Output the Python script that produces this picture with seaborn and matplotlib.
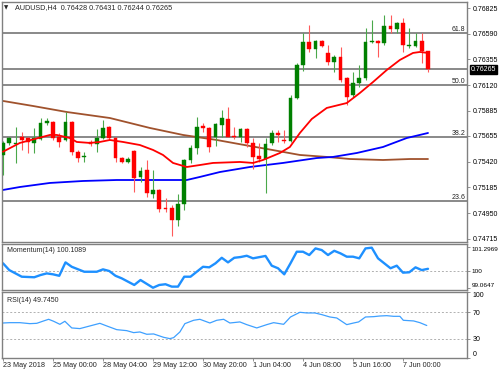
import numpy as np
import pandas as pd
import matplotlib
matplotlib.use("Agg")
import matplotlib.pyplot as plt
import matplotlib.transforms as mtrans
import seaborn as sns

# ---------------- data ----------------
opens = [0.75481,0.75591,0.75581,0.75645,0.75636,0.75591,0.75627,0.75773,0.75783,0.75645,
         0.75618,0.75783,0.75508,0.75463,0.75600,0.75581,0.75636,0.75737,0.75636,0.75453,
         0.75417,0.75517,0.75280,0.75344,0.75124,0.75161,0.74996,0.74996,0.74886,0.75033,
         0.75435,0.75545,0.75746,0.75728,0.75645,0.75755,0.75810,0.75655,0.75645,0.75719,
         0.75591,0.75472,0.75444,0.75591,0.75682,0.75618,0.75609,0.76002,0.76304,0.76514,
         0.76450,0.76523,0.76414,0.76331,0.76377,0.76185,0.76029,0.76139,0.76185,0.76514,
         0.76523,0.76505,0.76660,0.76633,0.76688,0.76478,0.76478,0.76523,0.76428]
highs = [0.75609,0.75645,0.75737,0.75691,0.75645,0.75728,0.75819,0.75819,0.75792,0.75682,
         0.75874,0.75792,0.75527,0.75508,0.75618,0.75719,0.75801,0.75746,0.75645,0.75463,
         0.75463,0.75527,0.75371,0.75435,0.75344,0.75170,0.75088,0.75024,0.75124,0.75444,
         0.75572,0.75828,0.75773,0.75737,0.75773,0.75892,0.75920,0.75737,0.75728,0.75728,
         0.75636,0.75591,0.75636,0.75709,0.75709,0.75709,0.76029,0.76322,0.76596,0.76670,
         0.76532,0.76532,0.76487,0.76395,0.76468,0.76194,0.76240,0.76304,0.76642,0.76715,
         0.76532,0.76761,0.76761,0.76697,0.76734,0.76642,0.76596,0.76596,0.76431]
lows = [0.75298,0.75572,0.75408,0.75527,0.75499,0.75499,0.75618,0.75755,0.75618,0.75554,
        0.75609,0.75481,0.75417,0.75417,0.75563,0.75508,0.75627,0.75618,0.75417,0.75408,
        0.75408,0.75143,0.75234,0.75097,0.75088,0.74960,0.74960,0.74740,0.74832,0.74978,
        0.75408,0.75490,0.75691,0.75508,0.75563,0.75645,0.75645,0.75627,0.75600,0.75554,
        0.75353,0.75417,0.75133,0.75572,0.75600,0.75591,0.75600,0.75993,0.76249,0.76423,
        0.76368,0.76468,0.76304,0.76240,0.76148,0.75938,0.76011,0.76103,0.76167,0.76505,
        0.76377,0.76487,0.76596,0.76596,0.76423,0.76459,0.76468,0.76322,0.76244]
closes = [0.75591,0.75636,0.75591,0.75618,0.75600,0.75636,0.75773,0.75792,0.75636,0.75600,
          0.75783,0.75508,0.75453,0.75472,0.75581,0.75636,0.75728,0.75636,0.75453,0.75417,
          0.75444,0.75271,0.75334,0.75133,0.75161,0.74987,0.74987,0.74886,0.75033,0.75435,
          0.75545,0.75737,0.75728,0.75554,0.75764,0.75819,0.75645,0.75645,0.75719,0.75591,
          0.75463,0.75444,0.75581,0.75682,0.75664,0.75609,0.76002,0.76304,0.76514,0.76450,
          0.76523,0.76478,0.76331,0.76377,0.76167,0.76011,0.76139,0.76185,0.76514,0.76523,
          0.76505,0.76660,0.76633,0.76688,0.76487,0.76487,0.76523,0.76432,0.76265]

# moving averages (read vertices: bar index, price)
ma_red_x = [0, 2.7, 7.5, 8.6, 10.7, 11.8, 13.9, 15.5, 17.1, 19.2, 21.9, 24, 25.6, 27.2, 29.4,
            31.5, 33.6, 37.9, 40, 41.6, 44.3, 45.9, 47.5, 49.4, 51.8, 55, 57.1, 59.2, 61.4,
            63.5, 65.6, 66.7, 68]
ma_red_y = [0.75511, 0.75591, 0.75664, 0.75664, 0.75636, 0.75600, 0.75591, 0.75600, 0.75618,
            0.75600, 0.75572, 0.75527, 0.75481, 0.75408, 0.75371, 0.75389, 0.75408, 0.75417,
            0.75408, 0.75435, 0.75499, 0.75554, 0.75682, 0.75810, 0.75911, 0.75956, 0.76048,
            0.76148, 0.76258, 0.76350, 0.76414, 0.76423, 0.76414]
ma_blue_x = [0, 2.7, 7.5, 12.8, 18.2, 29.4, 31.5, 34.7, 39.5, 44.8, 50.2, 52.8, 56.6, 60.8, 64.6, 68]
ma_blue_y = [0.75161, 0.75188, 0.75225, 0.75243, 0.75252, 0.75252, 0.75280, 0.75325, 0.75371,
             0.75408, 0.75453, 0.75463, 0.75499, 0.75554, 0.75636, 0.75682]
ma_brown_x = [0, 4.8, 10.2, 17.1, 23.5, 28.8, 34.2, 39.5, 42.2, 47.5, 51.8, 55.5, 60.8, 65.1, 68]
ma_brown_y = [0.75975, 0.75929, 0.75874, 0.75819, 0.75728, 0.75664, 0.75618, 0.75563, 0.75536,
              0.75481, 0.75463, 0.75444, 0.75435, 0.75444, 0.75444]

fib_levels = [0.76595, 0.76121, 0.75645, 0.75060]
fib_labels = ["61.8", "50.0", "38.2", "23.6"]
last_price = 0.76265

price_ticks = [0.76825, 0.76590, 0.76355, 0.76120, 0.75885, 0.75655, 0.75420, 0.75185, 0.74950, 0.74715]

mom_x = [0, 1, 2, 3, 5, 6, 7, 8, 9, 10, 11, 13, 15, 16, 17, 18, 19, 21, 22, 24, 25, 26, 27, 28,
         29, 30, 32, 33, 34, 35, 36, 37, 38, 39, 40, 42, 43, 44, 45, 46, 47, 48, 49, 50, 51, 52,
         53, 54, 55, 56, 57, 58, 59, 60, 61, 62, 63, 64, 65, 66, 67, 68]
mom_y = [100.41, 100.04, 99.86, 99.68, 99.65, 99.77, 99.86, 99.81, 99.73, 100.46, 100.22, 99.95,
         99.95, 100.08, 99.99, 99.73, 99.59, 99.23, 99.50, 99.08, 99.23, 99.27, 99.14, 99.14,
         99.68, 99.68, 100.22, 100.19, 100.41, 100.71, 100.46, 100.71, 100.75, 100.82, 100.68,
         100.81, 100.28, 100.14, 99.81, 100.41, 101.04, 101.04, 100.86, 101.22, 101.13, 100.86,
         101.09, 100.95, 100.77, 100.77, 100.68, 101.22, 101.26, 100.68, 100.41, 100.14, 100.28,
         99.90, 99.92, 100.19, 100.04, 100.11]
mom_ticks = [101.2969, 100, 99.0647]

rsi_x = [0, 1.1, 2.7, 4.3, 5.4, 6.5, 7.3, 8.1, 9.1, 9.9, 11, 12.3, 13.9, 15.5, 16.6, 18.2, 19.8,
         20.9, 21.9, 23, 24.1, 25.7, 26.7, 27.3, 28.3, 29.1, 30.5, 31.5, 33.1, 34.2, 35.3, 36.3,
         37.9, 39, 40.6, 42.2, 43.3, 44.9, 46, 47.5, 48.6, 49.9, 51, 52.3, 53.4, 55, 56.1, 56.9,
         58, 59.3, 60.3, 61.4, 62.5, 63.5, 64.05, 65.7, 66.7, 67.8]
rsi_y = [53.5, 54.0, 54.0, 52.5, 53.0, 56.6, 59.1, 56.1, 51.5, 56.1, 46.0, 45.0, 49.0, 53.0, 49.0,
         43.4, 41.9, 38.9, 39.9, 36.4, 36.9, 31.8, 29.8, 31.3, 39.9, 52.5, 57.6, 59.1, 53.5, 57.6,
         59.1, 53.5, 55.1, 51.0, 46.0, 51.0, 54.0, 51.5, 62.6, 69.7, 68.7, 68.7, 66.2, 62.6, 61.1,
         51.0, 53.5, 55.1, 62.6, 63.1, 64.1, 64.6, 63.6, 63.6, 57.6, 56.6, 54.0, 49.7]
rsi_ticks = [100, 70, 30, 0]

xtick_pos = [0, 8, 16, 24, 32, 40, 48, 56, 64]
xtick_labels = ["23 May 2018", "25 May 00:00", "28 May 04:00", "29 May 12:00", "30 May 20:00",
                "1 Jun 04:00", "4 Jun 08:00", "5 Jun 16:00", "7 Jun 00:00"]

# ---------------- style ----------------
sns.set_style("white")
plt.rcParams['font.family'] = ['Liberation Sans', 'DejaVu Sans']
FS = 5.0
GRID = '#808080'

fig = plt.figure(figsize=(5, 3.75), dpi=100)
W, H = 500.0, 375.0
L, R = 2.0, 467.0
ax1 = fig.add_axes([L / W, 1 - 242 / H, (R - L) / W, 240 / H])
ax2 = fig.add_axes([L / W, 1 - 290.3 / H, (R - L) / W, 46 / H])
ax3 = fig.add_axes([L / W, 1 - 358.3 / H, (R - L) / W, 66 / H])

XL = (-0.16, 74.24)

df = pd.DataFrame({'i': np.arange(len(opens)), 'open': opens, 'high': highs,
                   'low': lows, 'close': closes})
df['up'] = df['close'] >= df['open']

# fib + price lines
for lv in fib_levels + [last_price]:
    ax1.axhline(lv, color=GRID, lw=1.3, zorder=1)

# moving averages
sns.lineplot(x=ma_brown_x, y=ma_brown_y, ax=ax1, color='#a0522d', lw=1.3, estimator=None, sort=False, zorder=2)
sns.lineplot(x=ma_blue_x, y=ma_blue_y, ax=ax1, color='#0000ff', lw=1.3, estimator=None, sort=False, zorder=2)
sns.lineplot(x=ma_red_x, y=ma_red_y, ax=ax1, color='#ff0000', lw=1.3, estimator=None, sort=False, zorder=4)

# candles
for up, bcol, wcol in [(True, '#008000', '#4aa84a'), (False, '#ff0000', '#ff5a5a')]:
    d = df[df['up'] == up]
    ax1.vlines(d['i'], d['low'], d['high'], color=wcol, lw=0.8, zorder=3)
    hgt = np.maximum((d['close'] - d['open']).abs(), 0.00003)
    ax1.bar(d['i'], hgt, bottom=np.minimum(d['open'], d['close']), width=0.62,
            color=bcol, edgecolor=bcol, lw=0.3, zorder=3)

ax1.set_xlim(*XL)
ax1.set_ylim(0.74685, 0.76880)

# fib labels
tr1 = mtrans.blended_transform_factory(ax1.transAxes, ax1.transData)
for lv, lb in zip(fib_levels, fib_labels):
    ax1.text(0.997, lv + 0.00003, lb, transform=tr1, ha='right', va='bottom', fontsize=FS, color='#222222')
ax1.text(1.008, last_price, "0.76265", transform=tr1, ha='left', va='center', fontsize=FS,
         color='white', bbox=dict(facecolor='black', edgecolor='black', pad=0.8), zorder=10, clip_on=False)

fig.text(3.5 / W, 1 - 8 / H, "▼", fontsize=4, ha='left', va='center', family='DejaVu Sans')
fig.text(15 / W, 1 - 8 / H, "AUDUSD,H4  0.76428 0.76431 0.76244 0.76265", fontsize=5.2,
         ha='left', va='center')

# momentum
ax2.axhline(100, color='#b0b0b0', lw=0.7, ls=(0, (2, 2)))
sns.lineplot(x=mom_x, y=mom_y, ax=ax2, color='#1e90ff', lw=1.7, estimator=None, sort=False)
ax2.set_xlim(*XL)
ax2.set_ylim(98.94, 101.444)
ax2.text(5 / (R - L), 0.86, "Momentum(14) 100.1089", transform=ax2.transAxes, fontsize=FS, ha='left', va='center')

# rsi
for lv in [70, 30]:
    ax3.axhline(lv, color='#b0b0b0', lw=0.7, ls=(0, (2, 2)))
sns.lineplot(x=rsi_x, y=rsi_y, ax=ax3, color='#3ea0ff', lw=0.9, estimator=None, sort=False)
ax3.set_xlim(*XL)
ax3.set_ylim(0, 100)
ax3.text(5 / (R - L), 0.88, "RSI(14) 49.7450", transform=ax3.transAxes, fontsize=FS, ha='left', va='center')

# axes styling
for ax in (ax1, ax2, ax3):
    ax.set_xlabel("")
    ax.set_ylabel("")
    for s in ax.spines.values():
        s.set_color(GRID)
        s.set_linewidth(1.0)
    ax.yaxis.tick_right()
    ax.tick_params(axis='y', which='both', direction='out', length=2.5, width=0.6, color=GRID,
                   labelsize=FS, pad=1.5, labelcolor='black', right=True, left=False)
    ax.set_xticks([])

ax1.set_yticks(price_ticks)
ax1.set_yticklabels([f"{v:.5f}" for v in price_ticks])

ax2.set_yticks(mom_ticks)
ax2.set_yticklabels(["101.2969", "100", "99.0647"])
ax2.tick_params(axis='y', labelsize=4.6, pad=1.0)
labs = ax2.get_yticklabels()
labs[0].set_va('top'); labs[2].set_va('bottom')

ax3.set_yticks(rsi_ticks)
ax3.set_yticklabels(["100", "70", "30", "0"])
labs = ax3.get_yticklabels()
labs[0].set_va('top'); labs[3].set_va('bottom')

ax3.set_xticks(xtick_pos)
ax3.set_xticklabels(xtick_labels)
ax3.tick_params(axis='x', direction='out', length=2.5, width=0.6, color=GRID, labelsize=5.2, pad=0.5,
                bottom=True)
for t in ax3.get_xticklabels():
    t.set_ha('left')

fig.savefig("out.png", dpi=100, facecolor='white')
